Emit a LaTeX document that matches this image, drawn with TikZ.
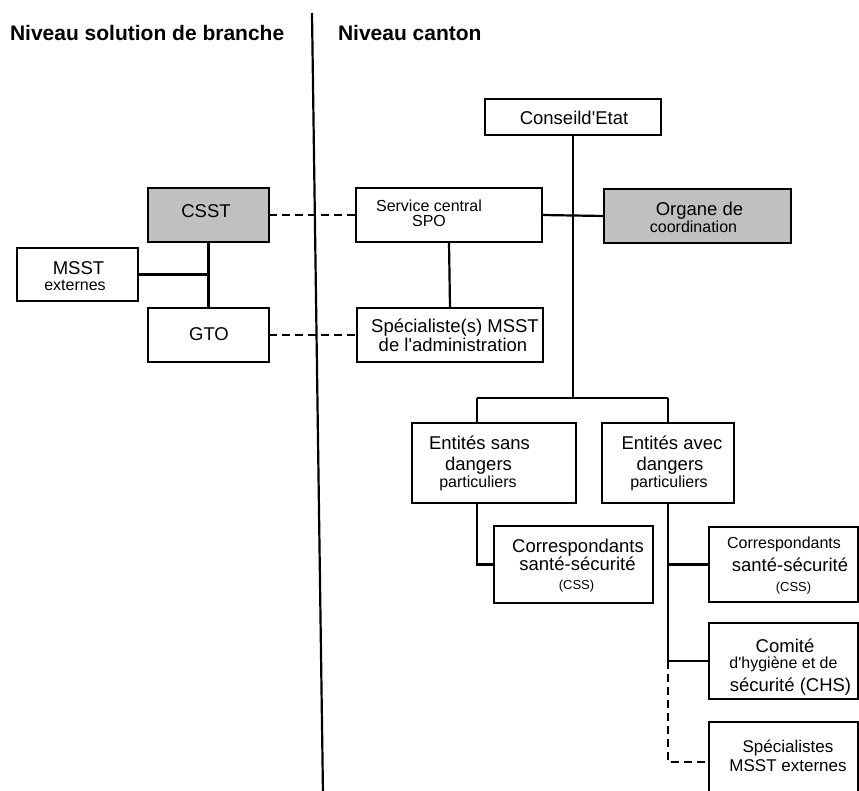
\documentclass[tikz,border=0pt]{standalone}
\usepackage{fontspec}
\setmainfont{Liberation Sans}
\newcommand\fL{\fontsize{18.5}{21}\selectfont}
\newcommand\fM{\fontsize{17}{19}\selectfont}
\newcommand\fS{\fontsize{16}{18}\selectfont}
\newcommand\fXS{\fontsize{13}{15}\selectfont}
\newcommand\fH{\fontsize{21}{24}\selectfont\bfseries}
\newcommand\apos{\textquotesingle}
\definecolor{boxgray}{RGB}{192,192,192}
\begin{document}
\begin{tikzpicture}[x=1pt,y=-1pt,
  box/.style={draw, line width=2.2pt, inner sep=0pt, outer sep=0pt, fill=white},
  graybox/.style={box, fill=boxgray},
  txt/.style={inner sep=0pt, outer sep=0pt, anchor=base},
  conn/.style={line width=2.2pt, line join=miter},
  dashline/.style={conn, dash pattern=on 8pt off 5pt}]
\useasboundingbox (0,0) rectangle (859,791);
\clip (0,0) rectangle (859,791);

% headers
\node[txt, anchor=base west] (h1) at (10,41) {\fH Niveau solution de branche};
\node[txt, anchor=base west] (h2) at (338,41) {\fH Niveau canton};

% divider
\coordinate (dtop) at (312,13);
\coordinate (dbot) at (323,795);
\draw[conn] (dtop) -- (dbot);

% boxes
\node[box, minimum width=176, minimum height=36] (conseil) at (573,117) {};
\node[box, minimum width=186, minimum height=54] (spo) at (449,215) {};
\node[graybox, minimum width=187, minimum height=54] (organe) at (697.5,216) {};
\node[graybox, minimum width=121, minimum height=54] (csst) at (208.5,215) {};
\node[box, minimum width=121, minimum height=53] (msst) at (77.5,274.5) {};
\node[box, minimum width=121, minimum height=54] (gto) at (208.5,335) {};
\node[box, minimum width=186, minimum height=54] (spec) at (450,335) {};
\node[box, minimum width=164, minimum height=80] (sans) at (494,463) {};
\node[box, minimum width=132, minimum height=80] (avec) at (668,463) {};
\node[box, minimum width=159, minimum height=77] (css1) at (573.5,564.5) {};
\node[box, minimum width=149, minimum height=75] (css2) at (783.5,564.5) {};
\node[box, minimum width=149, minimum height=76] (chs) at (783.5,661) {};
\node[box, minimum width=149, minimum height=80] (specx) at (783.5,762) {};

% connectors
\coordinate (bar) at (573,398);
\coordinate (barL) at (477,398);
\coordinate (barR) at (668,398);
\draw[conn] (conseil.south) -- (bar);
\draw[conn] (spo.east) -- (organe.west);
\draw[conn] (spo.south) -- (spec.north);
\draw[conn] (barL) -- (barR);
\draw[conn] (barL) -- (barL |- sans.north);
\draw[conn] (barR) -- (avec.north);
\draw[conn] (barL |- sans.south) -- (barL |- css1.west) -- (css1.west);
\draw[conn] (avec.south) -- (avec.south |- chs.west) -- (chs.west);
\draw[conn] (avec.south |- css2.west) -- (css2.west);
\draw[dashline] (avec.south |- chs.west) -- (avec.south |- specx.west) -- (specx.west);
\draw[conn] (csst.south) -- (gto.north);
\draw[conn] (msst.east) -- (msst.east -| csst.south);
\draw[dashline] (csst.east) -- (spo.west);
\draw[dashline] (gto.east) -- (spec.west);

% texts
\node[txt] (tconseil) at (574,125) {\fL Conseild\apos Etat};
\node[txt] (tspo1) at (429,212) {\fS Service central};
\node[txt] (tspo2) at (429,227) {\fS SPO};
\node[txt] (torg1) at (699.5,216) {\fL Organe de};
\node[txt] (torg2) at (693.5,233) {\fS coordination};
\node[txt] (tcsst) at (206,218) {\fL CSST};
\node[txt] (tmsst1) at (78.5,275) {\fL MSST};
\node[txt] (tmsst2) at (75,291) {\fS externes};
\node[txt] (tgto) at (209,341) {\fL GTO};
\node[txt] (tspec1) at (455,333) {\fL Spécialiste(s) MSST};
\node[txt] (tspec2) at (453,352) {\fL de l\apos administration};
\node[txt] (tsans1) at (479.5,449) {\fL Entités sans};
\node[txt] (tsans2) at (478.5,470) {\fL dangers};
\node[txt] (tsans3) at (478,487) {\fS particuliers};
\node[txt] (tavec1) at (672,449) {\fL Entités avec};
\node[txt] (tavec2) at (670,470) {\fL dangers};
\node[txt] (tavec3) at (669,487) {\fS particuliers};
\node[txt] (tcssa1) at (578,552) {\fL Correspondants};
\node[txt] (tcssa2) at (577.5,570) {\fL santé-sécurité};
\node[txt] (tcssa3) at (576.5,589) {\fXS (CSS)};
\node[txt] (tcssb1) at (784,548) {\fS Correspondants};
\node[txt] (tcssb2) at (790,571) {\fL santé-sécurité};
\node[txt] (tcssb3) at (793.5,591) {\fXS (CSS)};
\node[txt] (tchs1) at (785,652) {\fL Comité};
\node[txt] (tchs2) at (783.5,668) {\fS d\apos hygiène et de};
\node[txt] (tchs3) at (790.5,691) {\fL sécurité (CHS)};
\node[txt] (tspx1) at (788,752) {\fM Spécialistes};
\node[txt] (tspx2) at (788,771) {\fM MSST externes};
\end{tikzpicture}
\end{document}
